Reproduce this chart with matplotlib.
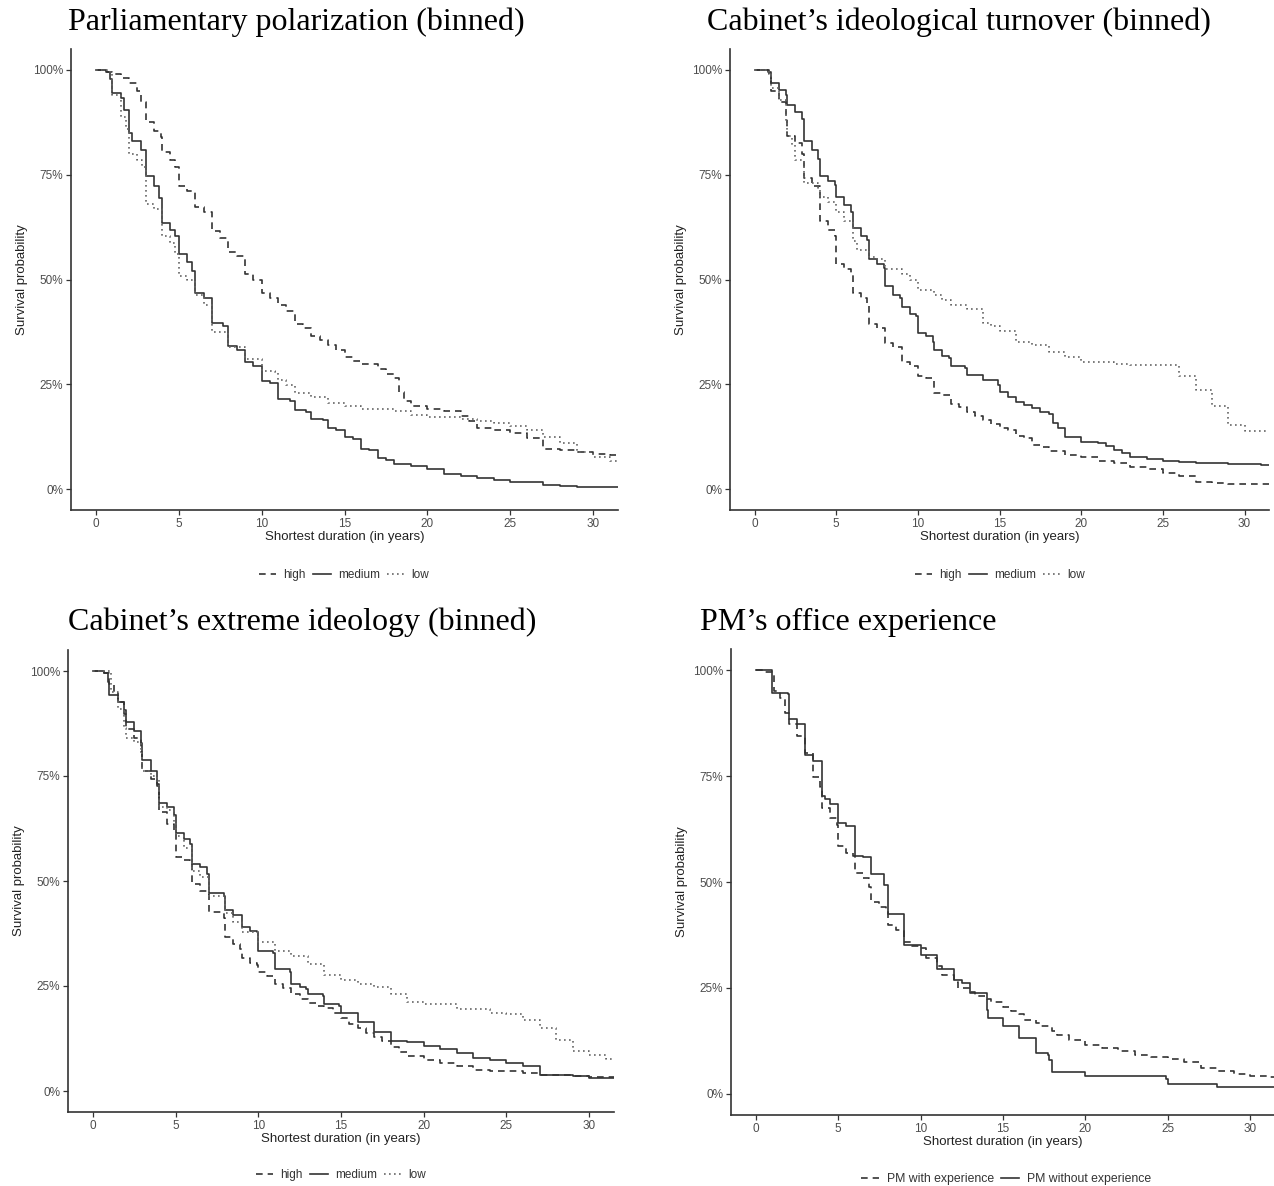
import matplotlib
matplotlib.use('Agg')
import matplotlib.pyplot as plt
from matplotlib.ticker import FuncFormatter

plt.rcParams['font.family'] = ['Liberation Sans', 'DejaVu Sans']

W, H = 1274, 1186
X_END = 31.5

# --- Kaplan-Meier step knots (time in years, survival in %) ---
# Panel 1: parliamentary polarization
pp_high_t = [0, 0.7, 1, 1.5, 2, 2.5, 2.7, 3, 3.5, 3.9, 4, 4.5, 4.8, 5, 5.5, 6, 6.5, 7, 7.5, 8, 8.5, 9, 9.5,
             10, 10.5, 11, 11.5, 12, 12.5, 13, 13.5, 14, 14.5, 15, 15.5, 16, 17, 17.5, 18, 18.3, 18.6, 19,
             20, 21, 22, 22.5, 23, 24, 25, 26, 27, 28, 29, 30, 31]
pp_high_s = [100, 99.5, 99, 98, 97, 95, 92.4, 87.5, 85.5, 84, 80.5, 78.5, 76.8, 72.2, 71, 67.3, 66, 61.5, 60,
             56.6, 55.5, 51.4, 50, 46.7, 45.5, 43.8, 42.5, 39.3, 38.5, 36.4, 35.5, 34.3, 33.1, 31.5, 30.5,
             29.8, 28.6, 27.5, 26.5, 23.2, 21, 19.9, 19.2, 18.7, 17.5, 16.2, 14.6, 14, 13.3, 12.1, 9.6, 9.2,
             8.8, 8.4, 8.2]
pp_med_t = [0, 0.6, 0.85, 1, 1.5, 1.7, 2, 2.2, 2.7, 3, 3.5, 3.8, 4, 4.5, 4.8, 5, 5.5, 5.8, 6, 6.5, 7, 7.7, 8,
            8.5, 9, 9.5, 10, 10.5, 11, 11.7, 12, 12.7, 13, 13.7, 14, 14.5, 15, 15.5, 16, 16.5, 17, 17.5, 18,
            19, 20, 21, 22, 23, 24, 25, 26, 27, 28, 29, 30, 31]
pp_med_s = [100, 99.5, 97.8, 94.5, 93.2, 90.4, 85, 83, 80.9, 74.7, 72.2, 69.4, 63.6, 61.9, 60.3, 56.2, 54.1,
            52, 46.7, 45.5, 39.7, 38.9, 34.1, 33.1, 30.2, 29.4, 25.7, 25.3, 21.4, 20.9, 18.9, 18.5, 16.6,
            16.5, 14.6, 14, 12.4, 12, 9.6, 9.2, 7.3, 7, 5.9, 5.4, 4.7, 3.6, 3.2, 2.6, 2.2, 1.8, 1.6, 1.0,
            0.8, 0.6, 0.5, 0.4]
pp_low_t = [0, 0.85, 1, 1.5, 1.8, 2, 2.5, 2.8, 3, 3.5, 4, 4.5, 4.8, 5, 5.5, 6, 6.5, 7, 8, 9, 10, 10.8, 11,
            11.5, 12, 13, 14, 15, 16, 18, 19, 20, 22, 23, 24, 25, 26, 27, 28, 29, 30, 31]
pp_low_s = [100, 99.5, 94, 88.7, 85.8, 80, 78.4, 76.8, 68.1, 66.9, 60.3, 58.6, 56.2, 50.8, 50, 46.3, 43.8,
            37.4, 33.8, 31, 28.2, 28, 26.1, 24.9, 22.8, 22, 20.5, 19.9, 19.1, 18.7, 17.6, 17.3, 16.6, 16.2,
            15.7, 15, 14.2, 12.5, 10.9, 8.8, 7.6, 6.8]

# Panel 2: cabinet's ideological turnover
it_high_t = [0, 0.9, 1, 1.5, 1.9, 2, 2.5, 2.9, 3, 3.5, 4, 4.5, 4.9, 5, 5.5, 5.9, 6, 6.5, 6.9, 7, 7.5, 8, 8.5,
             9, 9.5, 10, 10.5, 11, 11.5, 12, 12.5, 13, 13.5, 14, 14.5, 15, 15.5, 16, 16.5, 17, 17.5, 18, 19,
             20, 21, 22, 23, 24, 25, 26, 27, 28, 29]
it_high_s = [100, 99, 94.9, 92.4, 89.1, 84.2, 82.5, 80, 74.3, 72.2, 64, 61.9, 60.3, 53.7, 52.5, 51.2, 46.7,
             45.5, 43.8, 39.3, 38.5, 34.8, 33.9, 30.2, 29.4, 26.9, 26.5, 22.8, 22.5, 20.3, 19.5, 18.5, 17.5,
             16.5, 15.5, 14.6, 14, 12.7, 12.2, 10.6, 10, 9.0, 8.2, 7.6, 6.8, 6.1, 5.3, 4.7, 3.9, 3.2, 1.8,
             1.4, 1.2]
it_med_t = [0, 0.85, 1, 1.5, 1.9, 2, 2.5, 2.9, 3, 3.5, 3.9, 4, 4.5, 4.9, 5, 5.5, 5.9, 6, 6.5, 6.9, 7, 7.5, 7.9,
            8, 8.5, 8.9, 9, 9.5, 9.9, 10, 10.5, 10.9, 11, 11.5, 11.9, 12, 12.9, 13, 14, 14.9, 15, 15.5, 16,
            16.5, 17, 17.5, 18, 18.3, 18.6, 19, 20, 21, 21.5, 22, 22.5, 23, 24, 25, 26, 27, 29, 31]
it_med_s = [100, 99.5, 97, 95.3, 94, 91.6, 89.9, 88.3, 83, 80.9, 78.8, 74.7, 73.5, 72.6, 69.8, 67.7, 66.1,
            62.4, 60.3, 59.5, 54.9, 53.7, 52.8, 48.4, 46.3, 45.5, 43.4, 41.8, 41.3, 37.2, 36.4, 35.2, 33.1,
            31.8, 31.3, 29.4, 29, 27.3, 26.1, 24.9, 23.2, 22, 20.8, 20, 19.4, 18.5, 17.9, 15.8, 14.6, 12.4,
            11.3, 10.9, 10.2, 9.2, 8.5, 7.7, 7.2, 6.8, 6.5, 6.3, 5.9, 5.7]
it_low_t = [0, 0.9, 1, 1.5, 1.9, 2, 2.3, 2.5, 3, 3.05, 3.9, 4, 4.5, 5, 5.5, 6, 6.3, 7, 7.5, 8, 9, 9.5, 10, 11,
            11.5, 12, 13, 14, 14.5, 15, 16, 17, 18, 19, 20, 22, 23, 24, 26, 27, 28, 29, 30]
it_low_s = [100, 99, 95.7, 92.8, 87.5, 84.2, 82, 78.4, 77.6, 73.1, 71.8, 69.8, 68.5, 66.1, 64, 59.1, 57,
            55.4, 55, 52.5, 51.2, 50, 47.5, 46.3, 45, 43.8, 43, 39.7, 39, 37.6, 35.2, 34.3, 32.7, 31.5,
            30.2, 29.8, 29.6, 29.5, 26.9, 23.6, 19.9, 15.4, 13.8]

# Panel 3: cabinet's extreme ideology
ei_high_t = [0, 0.7, 1, 1.3, 1.5, 1.9, 2, 2.5, 2.9, 3, 3.5, 3.9, 4, 4.5, 4.9, 5, 5.5, 5.9, 6, 6.5, 6.9, 7, 7.9,
             8, 8.5, 8.9, 9, 9.5, 9.9, 10, 10.5, 10.9, 11, 11.5, 12, 12.5, 13, 13.5, 14, 14.5, 15, 15.5, 16,
             16.5, 17, 17.5, 18, 18.5, 19, 20, 21, 22, 23, 24, 26, 27, 29, 30, 31]
ei_high_s = [100, 99.5, 97, 95.1, 92.6, 89.8, 86.1, 84.1, 80.8, 76.3, 74.2, 73, 66.4, 63.6, 61.5, 55.8, 55,
             54.2, 49.3, 47.6, 46.8, 42.7, 41.1, 36.6, 35, 33.7, 31.7, 30.5, 30, 28.4, 27.5, 26.8, 25.5,
             24.5, 23.1, 22, 21, 20.3, 19.8, 18.5, 17.3, 16, 14.9, 13.8, 12.8, 11.8, 10.4, 9.2, 8.3, 7.5,
             6.7, 5.9, 5.1, 4.7, 4.3, 3.8, 3.6, 3.4, 3.3]
ei_med_t = [0, 0.7, 0.9, 1, 1.5, 1.9, 2, 2.5, 2.9, 3, 3.5, 3.9, 4, 4.5, 4.9, 5, 5.5, 5.9, 6, 6.5, 6.9, 7, 7.9,
            8, 8.5, 8.9, 9, 9.5, 9.9, 10, 10.9, 11, 11.9, 12, 12.5, 12.9, 13, 13.9, 14, 14.9, 15, 16, 17, 18,
            19, 20, 21, 22, 23, 24, 25, 26, 27, 29, 30, 31]
ei_med_s = [100, 99.5, 97.5, 94.3, 92.6, 90.6, 87.8, 85.8, 82.8, 78.7, 76.3, 72.6, 68.5, 67.7, 65.6, 61.5,
            59.9, 58.9, 54.1, 53.4, 51.6, 47.2, 46.4, 43.1, 42, 41.9, 39, 38.2, 37.8, 33.3, 32.9, 29, 28.4,
            25.5, 24.8, 24.3, 23.1, 22.7, 20.6, 20.2, 18.6, 16.5, 14.1, 12, 11.6, 10.8, 10, 9.0, 7.9, 7.4,
            6.7, 5.9, 3.7, 3.5, 3.2, 3.0]
ei_low_t = [0, 1.05, 1.1, 1.5, 1.9, 2, 2.5, 2.9, 3, 3.5, 3.9, 4, 4.5, 4.9, 5, 5.5, 6, 6.5, 7, 8, 8.5, 9, 10,
            11, 12, 13, 14, 15, 16, 17, 18, 19, 20, 22, 24, 25, 26, 27, 28, 29, 30, 31]
ei_low_s = [100, 99.5, 95, 90.9, 86.5, 84, 83.2, 80.4, 76.3, 75, 74.2, 67.7, 66.9, 64, 60.7, 57.9, 52.5, 51,
            46.4, 42.3, 40.3, 37.8, 35.5, 33.3, 32.1, 30.3, 27.6, 26.4, 25.4, 24.7, 23.1, 21.2, 20.8, 19.6,
            18.6, 18.3, 16.9, 14.9, 12.2, 9.6, 8.5, 7.7]

# Panel 4: PM's office experience
pm_with_t = [0, 0.5, 1, 1.1, 1.5, 1.8, 2, 2.5, 3, 3.5, 3.9, 4, 4.5, 4.9, 5, 5.5, 5.9, 6, 6.5, 6.9, 7, 7.5,
             7.9, 8, 8.5, 9, 9.5, 10, 10.3, 11, 11.3, 12, 12.3, 13, 13.3, 14, 14.3, 15, 15.5, 16, 16.3, 17,
             17.3, 18, 18.3, 19, 20, 21, 22, 23, 24, 25, 26, 27, 28, 29, 30, 31]
pm_with_s = [100, 99.5, 98.8, 95.1, 93.5, 90, 87.4, 84.4, 80.5, 74.8, 72.4, 67.5, 65.1, 63.5, 58.6, 56.8,
             56.2, 52.1, 50.9, 48.9, 45.2, 44, 43.4, 39.9, 38.6, 35.9, 35, 34.4, 32.1, 30.2, 28.1, 26.5,
             24.9, 24.1, 23.2, 22.5, 21.6, 20.5, 19.5, 18.8, 17.5, 16.8, 16, 14.8, 14, 12.8, 11.5, 10.7,
             10.1, 9.1, 8.7, 8.3, 7.6, 6, 5.4, 4.6, 4.2, 4.0]
pm_without_t = [0, 1, 1.95, 2, 2.5, 3, 3.5, 4, 4.2, 4.5, 5, 5.5, 6, 6.5, 7, 7.8, 8, 9, 10, 11, 12, 12.5, 13,
                14, 14.1, 15, 16, 17, 17.7, 17.8, 18, 20, 24.9, 25, 28]
pm_without_s = [100, 94.7, 94.3, 88.5, 87.4, 79.9, 78.5, 70.4, 69.6, 68.5, 63.9, 63.3, 56.2, 55.8, 51.9,
                49.2, 42.5, 35.2, 32.8, 29.4, 26.8, 26.1, 23.9, 19.8, 18, 16, 13.1, 9.7, 9.1, 7.9, 5.2, 4.1,
                3.4, 2.2, 1.6]

titles = ["Parliamentary polarization (binned)",
          "Cabinet\u2019s ideological turnover (binned)",
          "Cabinet\u2019s extreme ideology (binned)",
          "PM\u2019s office experience"]
level_labels = ["high", "medium", "low"]
pm_labels = ["PM with experience", "PM without experience"]

panels = [
    [(pp_high_t, pp_high_s), (pp_med_t, pp_med_s), (pp_low_t, pp_low_s)],
    [(it_high_t, it_high_s), (it_med_t, it_med_s), (it_low_t, it_low_s)],
    [(ei_high_t, ei_high_s), (ei_med_t, ei_med_s), (ei_low_t, ei_low_s)],
    [(pm_with_t, pm_with_s), (pm_without_t, pm_without_s)],
]

# axes rectangles in pixels: left, top, right, bottom
rects = [(71, 49, 618, 510), (730, 49, 1269, 510), (68, 650, 614, 1112), (731, 649, 1275, 1115)]
title_pos = [(68, 22), (707, 22), (68, 622), (700, 622)]
legend_pos = [(344, 575), (1000, 575), (341, 1175), (1006, 1179)]

styles = [dict(ls=(0, (4, 3)), color='#333333', lw=1.2),
          dict(ls='-', color='#333333', lw=1.2),
          dict(ls=(0, (1, 2)), color='#666666', lw=1.2)]

fig = plt.figure(figsize=(W / 100, H / 100), dpi=100)

for i, series in enumerate(panels):
    l, t, r, b = rects[i]
    ax = fig.add_axes([l / W, 1 - b / H, (r - l) / W, (b - t) / H])
    labels = pm_labels if i == 3 else level_labels
    for j, (ts, ss) in enumerate(series):
        xs = list(ts) + [X_END]
        ys = [v / 100 for v in ss] + [ss[-1] / 100]
        ax.step(xs, ys, where='post', label=labels[j], **styles[j])
    ax.set_xlim(-1.5, 31.5)
    ax.set_ylim(-0.05, 1.05)
    ax.set_xticks([0, 5, 10, 15, 20, 25, 30])
    ax.set_yticks([0, 0.25, 0.5, 0.75, 1.0])
    ax.yaxis.set_major_formatter(FuncFormatter(lambda v, p: f"{v * 100:.0f}%"))
    for side in ['top', 'right']:
        ax.spines[side].set_visible(False)
    for side in ['left', 'bottom']:
        ax.spines[side].set_color('#333333')
        ax.spines[side].set_linewidth(1.2)
    ax.tick_params(length=3.5, width=0.9, color='#333333', labelsize=8.5, labelcolor='#4d4d4d', pad=2)
    ax.set_xlabel("Shortest duration (in years)", fontsize=9.5, color='#222222', labelpad=1)
    ax.set_ylabel("Survival probability", fontsize=9.5, color='#222222', labelpad=4)
    lx, ly = legend_pos[i]
    fig.legend(handles=ax.get_lines(), labels=labels, loc='center',
               bbox_to_anchor=(lx / W, 1 - ly / H), ncol=len(series), frameon=False,
               fontsize=8.8 if i == 3 else 8.5, handlelength=1.5, handletextpad=0.6,
               columnspacing=0.6, labelcolor='#333333', borderpad=0)
    tx, ty = title_pos[i]
    fig.text(tx / W, 1 - ty / H, titles[i], family='Liberation Serif', fontsize=23, va='center', ha='left')

fig.savefig("out.png", dpi=100)
